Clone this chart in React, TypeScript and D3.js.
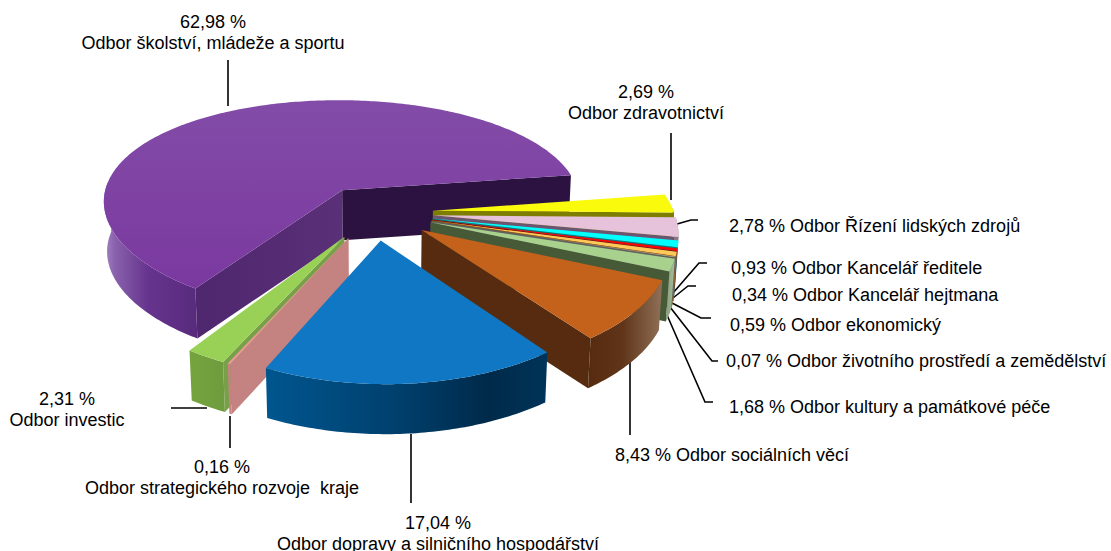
import React from "react";
import * as d3 from "d3";

// Data, clockwise starting at the end of the largest sector
const departments = [
  "Odbor zdravotnictví",
  "Odbor Řízení lidských zdrojů",
  "Odbor Kancelář ředitele",
  "Odbor Kancelář hejtmana",
  "Odbor ekonomický",
  "Odbor životního prostředí a zemědělství",
  "Odbor kultury a památkové péče",
  "Odbor sociálních věcí",
  "Odbor dopravy a silničního hospodářství",
  "Odbor strategického rozvoje  kraje",
  "Odbor investic",
  "Odbor školství, mládeže a sportu",
];
const shares = [2.69, 2.78, 0.93, 0.34, 0.59, 0.07, 1.68, 8.43, 17.04, 0.16, 2.31, 62.98];
const shareLabels = ["2,69 %", "2,78 %", "0,93 %", "0,34 %", "0,59 %", "0,07 %", "1,68 %", "8,43 %", "17,04 %", "0,16 %", "2,31 %", "62,98 %"];

// Styles: [top, ray wall, rim]
const topColors = ["#fafa0c", "#e6c3da", "#00ffff", "#ff0000", "#fcc95a", "#c0c0c0", "#a9d18e", "#c4621c", "#0f77c3", "#e89a95", "#98d155", "url(#topPurple)"];
const wallColors = ["#7d7d00", "#6c5570", "#008080", "#800000", "#7f5f10", "#606060", "#465a38", "#562b0f", "#00345a", "#c48381", "#78a048", "url(#wallPurple)"];
const endWallColors = ["#7d7d00", "#6c5570", "#008080", "#800000", "#7f5f10", "#606060", "#465a38", "#562b0f", "#00345a", "#c48381", "#78a048", "#2c1240"];
const rimColors = ["#7d7d00", "#8a7a85", "#208080", "#804040", "#8f7f40", "#808080", "url(#rimGreenLight)", "url(#rimOrange)", "url(#rimBlue)", "#c48381", "url(#rimGreen)", "url(#rimPurple)"];
const drawOrder = [11, 0, 1, 2, 3, 4, 5, 6, 7, 10, 9, 8];

// Projection of the tilted disc
const CX = 374, CY = 212.5, RX = 242, RY = 110.7, PERSP_Y = 0.159, PERSP_X = 0.118, SKEW = 2.5, EXPLODE = 0.245, DEPTH = 50, SHRINK = 0.988;
const START_DEG = 80;

type P = [number, number];
const project = (x: number, y: number): P => [
  CX + (RX * x) / (1 + PERSP_X * y),
  CY - (RY * y) / (1 + PERSP_Y * y) + SKEW * x,
];
const drop = (p: P): P => [CX + (p[0] - CX) * SHRINK, p[1] + DEPTH];
const poly = d3.line<P>().curve(d3.curveLinearClosed);

const pieGen = d3.pie<number>().sort(null).startAngle((START_DEG * Math.PI) / 180).endAngle(((START_DEG + 360) * Math.PI) / 180);
const arcs = pieGen(shares);

const sector = arcs.map((a) => {
  const mid = (a.startAngle + a.endAngle) / 2;
  const ex = EXPLODE * Math.sin(mid), ey = EXPLODE * Math.cos(mid);
  const at = (t: number) => project(ex + Math.sin(t), ey + Math.cos(t));
  const n = Math.max(2, Math.ceil((a.endAngle - a.startAngle) / 0.015));
  const ts = d3.range(n + 1).map((i) => a.startAngle + ((a.endAngle - a.startAngle) * i) / n);
  const apex = project(ex, ey);
  const rimPts = ts.map(at);
  const top = poly([apex, ...rimPts])!;
  const quad = (u: P, v: P) => poly([u, v, drop(v), drop(u)])!;
  const startWall = Math.sin(a.startAngle) < 0 ? quad(apex, at(a.startAngle)) : null;
  const endWall = Math.sin(a.endAngle) > 0 ? quad(apex, at(a.endAngle)) : null;
  const front = ts.filter((t) => Math.cos(t) < 0.06).map(at);
  const rim = front.length > 1 ? poly([...front, ...front.slice().reverse().map(drop)])! : null;
  return { top, startWall, endWall, rim };
});

// Leader lines and text placement, same order as the data
const leaders: P[][] = [
  [[671, 133], [671, 200]],
  [[677, 224], [691, 220], [698, 220]],
  [[673, 293], [699, 263], [707, 263]],
  [[673, 298], [688, 286], [696, 286]],
  [[672, 303], [701, 318], [711, 318]],
  [[670, 307], [712, 361], [718, 361]],
  [[667, 315], [705, 402], [713, 402]],
  [[630, 362], [630, 435]],
  [[411, 434], [411, 503]],
  [[230, 416], [230, 448]],
  [[207, 408], [171, 408]],
  [[228, 60], [228, 106]],
];
const twoLine = [
  { x: 646, y: 98 }, null, null, null, null, null, null, null,
  { x: 438, y: 529 }, { x: 222, y: 473 }, { x: 67, y: 405 }, { x: 213, y: 28 },
];
const oneLine = [
  null, { x: 729, y: 232 }, { x: 731, y: 274 }, { x: 732, y: 301 }, { x: 730, y: 331 },
  { x: 726, y: 367 }, { x: 729, y: 413 }, { x: 615, y: 461 }, null, null, null, null,
];
const line = d3.line<P>();

const grad = (id: string, x1: number, x2: number, stops: [number, string][]) => (
  <linearGradient id={id} gradientUnits="userSpaceOnUse" x1={x1} x2={x2} y1={0} y2={0} key={id}>
    {stops.map(([o, c]) => <stop key={o} offset={o} stopColor={c} />)}
  </linearGradient>
);

export default function App() {
  return (
    <svg width={1111} height={551} style={{ position: "absolute", left: 0, top: 0, background: "#fff" }} fontFamily="'Liberation Sans', Arial, sans-serif" fontSize={18}>
      <defs>
        <linearGradient id="topPurple" gradientUnits="userSpaceOnUse" x1={0} x2={0} y1={100} y2={295}>
          <stop offset={0} stopColor="#834ca8" />
          <stop offset={1} stopColor="#7a389f" />
        </linearGradient>
        {grad("wallPurple", 196, 342, [[0, "#4f276e"], [1, "#5a3078"]])}
        {grad("rimPurple", 105, 200, [[0, "#a084c0"], [0.1, "#8a62ad"], [0.45, "#66348e"], [1, "#572a7c"]])}
        {grad("rimBlue", 265, 546, [[0, "#00568f"], [0.45, "#00416f"], [0.8, "#002a4a"], [1, "#003458"]])}
        {grad("rimOrange", 589, 662, [[0, "#562b0f"], [0.45, "#5f3418"], [1, "#8f7057"]])}
        {grad("rimGreen", 189, 225, [[0, "#75a43e"], [1, "#6e9c3e"]])}
        {grad("rimGreenLight", 664, 678, [[0, "#7c9670"], [1, "#b9c9ac"]])}
      </defs>
      {leaders.map((l, i) => (
        <path key={i} d={line(l)!} fill="none" stroke="#000" strokeWidth={1.6} />
      ))}
      {drawOrder.map((i) => {
        const s = sector[i];
        return (
          <g key={i}>
            {s.endWall && <path d={s.endWall} fill={endWallColors[i]} />}
            {s.startWall && <path d={s.startWall} fill={wallColors[i]} />}
            {s.rim && <path d={s.rim} fill={rimColors[i]} />}
            <path d={s.top} fill={topColors[i]} />
          </g>
        );
      })}
      <g fill="#000">
        {departments.map((d, i) => {
          const two = twoLine[i], one = oneLine[i];
          if (two)
            return (
              <g key={i} textAnchor="middle">
                <text x={two.x} y={two.y}>{shareLabels[i]}</text>
                <text x={two.x} y={two.y + 21} xmlSpace="preserve">{d}</text>
              </g>
            );
          return <text key={i} x={one!.x} y={one!.y}>{shareLabels[i] + " " + d}</text>;
        })}
      </g>
    </svg>
  );
}
